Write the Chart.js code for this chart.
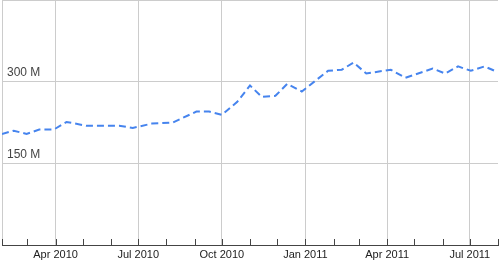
<!DOCTYPE html>
<html>
<head>
<meta charset="utf-8">
<script src="https://cdn.jsdelivr.net/npm/chart.js@4"></script>
<style>
  html, body { margin: 0; padding: 0; background: #fff; }
  #wrap { width: 500px; height: 263px; }
</style>
</head>
<body>
<div id="wrap"><canvas id="chart"></canvas></div>
<script>
// values (millions)
const dates = ['2010-02-01', '2010-02-14', '2010-02-28', '2010-03-14', '2010-03-30', '2010-04-13',
    '2010-05-05', '2010-06-10', '2010-06-25', '2010-07-16', '2010-08-08', '2010-09-03',
    '2010-09-17', '2010-10-01', '2010-10-18', '2010-11-01', '2010-11-14', '2010-11-29',
    '2010-12-12', '2010-12-28', '2011-01-26', '2011-02-10', '2011-02-23', '2011-03-09',
    '2011-04-05', '2011-04-21', '2011-05-21', '2011-06-04', '2011-06-18', '2011-07-02',
    '2011-07-17', '2011-07-31'];
const values = [204, 210, 204, 212, 212, 226,
    219, 219, 215, 223, 225, 245,
    245, 239, 263, 293, 272, 274,
    296, 282, 320, 322, 335, 315,
    322, 307, 324, 315, 328, 320,
    328, 318];

const monthTicks = ['2010-02-01', '2010-03-01', '2010-04-01', '2010-05-01', '2010-06-01', '2010-07-01',
    '2010-08-01', '2010-09-01', '2010-10-01', '2010-11-01', '2010-12-01', '2011-01-01',
    '2011-02-01', '2011-03-01', '2011-04-01', '2011-05-01', '2011-06-01', '2011-07-01', '2011-08-01'];
const monthLabels = ['', '', 'Apr 2010', '', '', 'Jul 2010',
    '', '', 'Oct 2010', '', '', 'Jan 2011',
    '', '', 'Apr 2011', '', '', 'Jul 2011', ''];

const yTicks = [0, 150, 300, 450];
const yLabels = ['', '150 M', '300 M', ''];

const start = Date.UTC(2010, 1, 1);
function toDay(s) {
    const [y, m, d] = s.split('-').map(Number);
    return (Date.UTC(y, m - 1, d) - start) / 86400000;
}

// small tick marks pointing up from the x axis
const axisTicks = {
    id: 'axisTicks',
    afterDraw(chart) {
        const ctx = chart.ctx;
        const xs = chart.scales.x;
        const bottom = chart.chartArea.bottom;
        ctx.save();
        ctx.strokeStyle = '#444';
        ctx.lineWidth = 1;
        xs.ticks.forEach(t => {
            const px = Math.round(xs.getPixelForValue(t.value)) + 0.5;
            ctx.beginPath();
            ctx.moveTo(px, bottom);
            ctx.lineTo(px, bottom - 6);
            ctx.stroke();
        });
        ctx.restore();
    }
};

new Chart(document.getElementById('chart').getContext('2d'), {
    type: 'line',
    data: {
        datasets: [{
            data: dates.map((d, i) => ({ x: toDay(d), y: values[i] })),
            borderColor: '#4684ee',
            borderWidth: 2,
            borderDash: [7, 4],
            pointRadius: 0,
            tension: 0,
            fill: false
        }]
    },
    options: {
        responsive: true,
        maintainAspectRatio: false,
        animation: false,
        layout: { padding: { left: 2, right: 2, top: 0, bottom: 0 } },
        plugins: { legend: { display: false }, tooltip: { enabled: false } },
        scales: {
            x: {
                type: 'linear',
                min: 0,
                max: toDay('2011-08-01'),
                afterBuildTicks: scale => {
                    scale.ticks = monthTicks.map(d => ({ value: toDay(d) }));
                },
                afterFit: scale => {
                    scale.height = 18;
                    scale.paddingLeft = 0;
                    scale.paddingRight = 0;
                },
                ticks: {
                    autoSkip: false,
                    maxRotation: 0,
                    padding: 3,
                    color: '#222',
                    font: { family: 'Liberation Sans', size: 11 },
                    callback: (v, i) => monthLabels[i]
                },
                grid: {
                    drawTicks: false,
                    color: ctx => (ctx.index === 0 || monthLabels[ctx.index]) ? '#cccccc' : 'rgba(0,0,0,0)'
                },
                border: { color: '#444', width: 1 }
            },
            y: {
                min: 0,
                max: 450,
                afterBuildTicks: scale => {
                    scale.ticks = yTicks.map(v => ({ value: v }));
                },
                afterFit: scale => {
                    scale.width = 0;
                    scale.paddingTop = 0;
                    scale.paddingBottom = 0;
                },
                ticks: {
                    mirror: true,
                    padding: 5,
                    labelOffset: -9,
                    color: '#444',
                    font: { family: 'Liberation Sans', size: 12 },
                    callback: (v, i) => yLabels[i]
                },
                grid: {
                    drawTicks: false,
                    color: ctx => ctx.index === 0 ? 'rgba(0,0,0,0)' : '#cccccc'
                },
                border: { display: false }
            }
        }
    },
    plugins: [axisTicks]
});
</script>
</body>
</html>
